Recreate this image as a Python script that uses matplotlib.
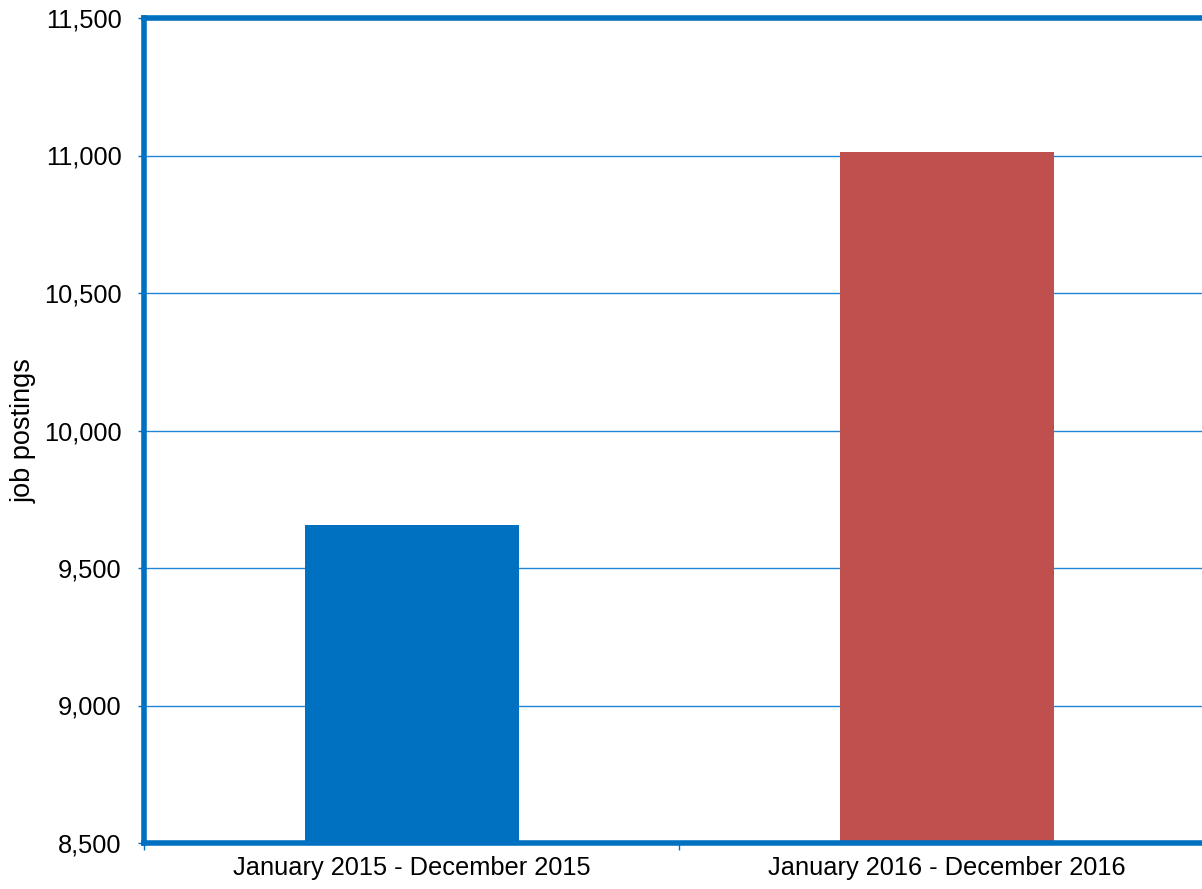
import matplotlib
matplotlib.use("Agg")
import matplotlib.pyplot as plt
from matplotlib.ticker import FuncFormatter, FixedLocator

categories = ["January 2015 - December 2015", "January 2016 - December 2016"]
values = [9655, 11012]
colors = ["#0070C0", "#C0504D"]
yticks = [8500, 9000, 9500, 10000, 10500, 11000, 11500]

plt.rcParams['font.family'] = ['Liberation Sans', 'DejaVu Sans']
fig = plt.figure(figsize=(12.02, 8.89), dpi=100)
W, H = 1202, 889
ax = fig.add_axes([144 / W, (H - 843) / H, 1070 / W, 825 / H])

x = list(range(len(categories)))
ax.bar(x, values, width=0.4, color=colors, zorder=3)
ax.set_xlim(-0.5, len(categories) - 0.5)
ax.set_ylim(8500, 11500)
ax.set_yticks(yticks)
ax.yaxis.set_major_formatter(FuncFormatter(lambda v, p: f"{int(v):,}"))
ax.set_xticks(x)
ax.set_xticklabels(categories, fontsize=18.3)
ax.xaxis.set_minor_locator(FixedLocator([-0.5, 0.5, 1.5]))
ax.tick_params(axis='x', which='major', length=0, pad=9)
ax.tick_params(axis='x', which='minor', length=5, color='#0070C0', width=1)
ax.tick_params(axis='y', length=4, color='#0070C0', width=1, labelsize=18.3, pad=12)
ax.grid(axis='y', color='#1F85D6', linewidth=1, zorder=1)
for s in ax.spines.values():
    s.set_color('#0070C0')
    s.set_linewidth(4)
    s.set_zorder(4)
ax.set_ylabel("job postings", fontsize=19.5)
ax.yaxis.set_label_coords(-0.1, 0.5)
fig.savefig("out.png", dpi=100)
